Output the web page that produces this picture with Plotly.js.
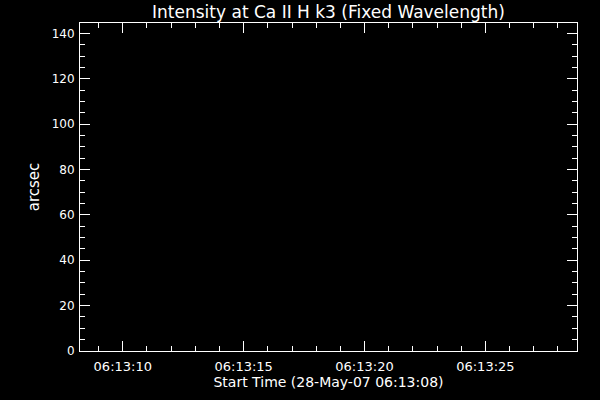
<!DOCTYPE html>
<html>
<head>
<meta charset="utf-8">
<script src="https://cdn.plot.ly/plotly-3.0.1.min.js"></script>
<style>html,body{margin:0;padding:0;background:#000;}#chart{width:600px;height:400px;}</style>
</head>
<body>
<div id="chart"></div>
<script>
// Chart data (the reference plot has no visible marks)
const chartTitle = "Intensity at Ca II H k3 (Fixed Wavelength)";
const xTitle = "Start Time (28-May-07 06:13:08)";
const yTitle = "arcsec";
const timeValues = [];          // no plotted samples visible
const arcsecValues = [];        // no plotted samples visible
const xRange = ["2007-05-28 06:13:08.23", "2007-05-28 06:13:28.79"];
const yRange = [0, 144.6];
const xTickVals = ["2007-05-28 06:13:10", "2007-05-28 06:13:15", "2007-05-28 06:13:20", "2007-05-28 06:13:25"];
const xTickText = ["06:13:10", "06:13:15", "06:13:20", "06:13:25"];
const yTickVals = [0, 20, 40, 60, 80, 100, 120, 140];

const fontFam = "DejaVu Sans, sans-serif";

const trace = {
  x: timeValues,
  y: arcsecValues,
  type: "scatter",
  mode: "lines",
  line: {color: "#ffffff", width: 1},
  showlegend: false,
  hoverinfo: "skip"
};

const layout = {
  width: 600,
  height: 400,
  paper_bgcolor: "#000000",
  plot_bgcolor: "#000000",
  margin: {l: 80, r: 23, t: 23, b: 49, pad: 0},
  font: {family: fontFam, color: "#ffffff", size: 12},
  title: {
    text: chartTitle,
    font: {family: fontFam, size: 17, color: "#ffffff"},
    x: 0.5, xref: "paper", xanchor: "center",
    y: 1 - 12 / 400, yref: "container", yanchor: "middle"
  },
  xaxis: {
    type: "date",
    range: xRange,
    tickmode: "array",
    tickvals: xTickVals,
    ticktext: xTickText,
    ticks: "inside",
    ticklen: 10,
    tickwidth: 1,
    tickcolor: "#ffffff",
    ticklabelstandoff: 3,
    minor: {dtick: 1000, ticks: "inside", ticklen: 5, tickwidth: 1, tickcolor: "#ffffff", showgrid: false},
    showline: true,
    linecolor: "#ffffff",
    linewidth: 1,
    mirror: "ticks",
    showgrid: false,
    zeroline: false,
    tickfont: {family: fontFam, size: 13, color: "#ffffff"},
    title: {text: xTitle, font: {family: fontFam, size: 14, color: "#ffffff"}, standoff: 1},
    automargin: false,
    fixedrange: true
  },
  yaxis: {
    range: yRange,
    tickmode: "array",
    tickvals: yTickVals,
    ticks: "inside",
    ticklen: 10,
    tickwidth: 1,
    tickcolor: "#ffffff",
    ticklabelstandoff: 2,
    minor: {dtick: 5, ticks: "inside", ticklen: 5, tickwidth: 1, tickcolor: "#ffffff", showgrid: false},
    showline: true,
    linecolor: "#ffffff",
    linewidth: 1,
    mirror: "ticks",
    showgrid: false,
    zeroline: false,
    tickfont: {family: fontFam, size: 12, color: "#ffffff"},
    title: {text: yTitle, font: {family: fontFam, size: 15, color: "#ffffff"}, standoff: 8},
    automargin: false,
    fixedrange: true
  }
};

Plotly.newPlot("chart", [trace], layout, {displayModeBar: false, staticPlot: true});
</script>
</body>
</html>
